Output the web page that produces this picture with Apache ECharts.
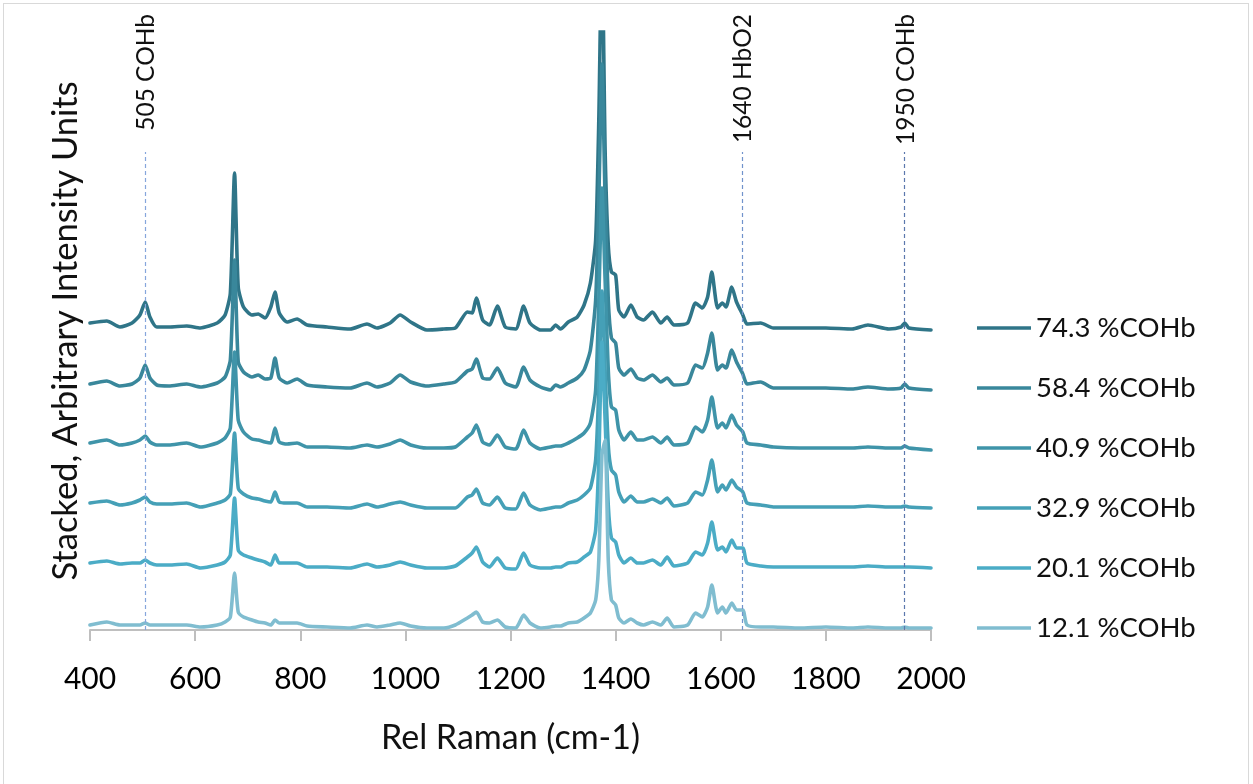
<!DOCTYPE html>
<html>
<head>
<meta charset="utf-8">
<script src="https://cdn.jsdelivr.net/npm/echarts@6/dist/echarts.min.js"></script>
<style>
html,body{margin:0;padding:0;background:#fff;}
#frame{position:absolute;left:3px;top:3px;width:1246px;height:790px;border:1px solid #d9d9d9;box-sizing:border-box;}
#chart{position:absolute;left:0;top:0;width:1253px;height:784px;}
</style>
</head>
<body>
<div id="frame"></div>
<div id="chart"></div>
<script>
// Raman shift (cm-1)
const wavenumbers = [400,432,457,480,495,505,514,527,550,584,610,642,657,667,675,682,692,708,720,733,744,752,760,775,794,813,851,895,927,946,971,990,1010,1041,1073,1095,1118,1127,1135,1147,1160,1175,1190,1210,1225,1237,1257,1276,1286,1295,1310,1327,1340,1352,1362,1368,1374,1380,1386,1392,1400,1406,1416,1429,1441,1453,1470,1486,1498,1511,1537,1552,1565,1575,1583,1594,1603,1610,1621,1630,1642,1650,1676,1700,1750,1800,1850,1880,1920,1943,1950,1958,2000];

// Intensities (arbitrary units, before stacking offset)
const cohb743 = [7,9,3,7,15,28,13,3,3,4,2,7,15,37,157,43,23,15,16,12,23,38,17,8,11,5,3,1,6,2,7,15,8,0,1,2,18,17,32,10,5,24,3,1,24,7,0,0,5,1,8,13,25,47,90,210,390,180,85,58,55,20,13,25,13,10,18,7,13,5,7,27,22,33,58,22,27,23,43,28,15,6,7,2,2,2,1,5,1,3,7,2,0];
const cohb584 = [6,9,4,6,12,25,12,5,4,6,3,7,13,30,130,28,18,13,15,11,12,32,12,7,11,5,3,2,7,3,7,15,8,4,6,8,19,21,31,12,11,22,7,3,23,10,3,0,5,3,7,12,20,40,90,190,326,190,90,52,47,22,15,21,12,10,15,8,12,5,7,25,22,37,57,20,25,22,40,28,16,6,8,2,2,2,1,3,1,2,6,2,0];
const cohb409 = [7,10,5,7,10,14,8,5,5,7,3,7,12,22,98,30,18,11,10,8,7,22,8,6,7,3,3,2,5,3,6,10,5,2,2,3,13,17,25,8,5,15,3,1,20,7,1,3,4,4,7,12,17,27,60,150,262,170,80,43,40,20,10,18,10,10,13,7,13,5,7,23,18,30,53,22,27,22,35,25,18,7,5,3,2,2,2,3,2,2,4,2,0];
const cohb329 = [7,9,5,7,10,13,8,6,6,7,3,7,10,16,77,22,16,12,11,9,8,18,8,7,7,3,3,2,6,3,6,8,5,2,2,2,13,15,21,7,5,13,2,1,17,5,0,2,3,3,7,10,15,22,50,120,219,140,65,40,35,18,8,14,8,8,11,7,12,4,7,18,15,30,50,18,25,20,30,23,18,7,5,3,3,3,3,4,3,3,4,3,2];
const cohb201 = [7,9,6,7,7,10,7,5,5,6,2,5,8,15,72,20,15,12,10,8,5,15,7,7,7,3,3,2,6,3,5,8,5,2,2,4,13,17,23,8,3,12,2,1,17,5,2,2,3,3,7,8,13,18,40,110,228,150,65,32,28,15,7,12,7,7,10,5,13,4,7,18,15,27,48,20,23,18,30,22,22,7,4,3,3,3,3,4,3,3,3,3,2];
const cohb121 = [5,8,5,5,5,7,5,5,5,5,3,5,8,13,57,18,13,10,8,7,5,10,7,7,7,4,3,2,5,3,5,7,4,2,2,5,12,15,18,8,7,10,3,2,15,7,2,3,4,4,7,8,12,17,30,70,175,190,70,30,25,12,7,11,7,5,8,5,12,3,5,17,13,23,45,17,23,17,27,20,20,5,3,3,2,3,2,3,2,2,3,2,2];

const seriesNames = ['74.3 %COHb','58.4 %COHb','40.9 %COHb','32.9 %COHb','20.1 %COHb','12.1 %COHb'];
const seriesValues = [cohb743, cohb584, cohb409, cohb329, cohb201, cohb121];
const stackOffsets = [300, 240, 180, 120, 60, 0];
const seriesColors = ['#2f7588','#39879b','#3f94a9','#45a0b7','#4bacc6','#80bdd0'];

// Reference band markers
const markerPositions = [505, 1640, 1950];
const markerLabels = ['505 COHb', '1640 HbO2', '1950 COHb'];
const markerTops = [478, 478, 478];
const markerColors = ['#86a6dc', '#7193cc', '#5b78ad'];
const labelEndValue = 616;

const FONT = 'Lato, "Open Sans", sans-serif';
const chart = echarts.init(document.getElementById('chart'), null, {renderer: 'canvas'});

const series = seriesNames.map((name, k) => ({
  name: name,
  type: 'line',
  showSymbol: false,
  symbol: 'none',
  smooth: 0.2,
  clip: true,
  lineStyle: {width: 3.6, color: seriesColors[k], cap: 'round', join: 'round'},
  itemStyle: {color: seriesColors[k]},
  data: wavenumbers.map((x, i) => [x, seriesValues[k][i] + stackOffsets[k]])
}));

series[series.length - 1].markLine = {
  silent: true,
  symbol: 'none',
  label: {show: false},
  data: markerPositions.map((p, i) => [
    {coord: [p, 0], lineStyle: {color: markerColors[i], type: [4, 3], width: 1.2}},
    {coord: [p, markerTops[i]]}
  ])
};

chart.setOption({
  animation: false,
  backgroundColor: 'transparent',
  grid: {left: 90, right: 322, top: 32, bottom: 154, containLabel: false},
  legend: {
    orient: 'vertical',
    left: 977,
    top: 313,
    padding: 0,
    icon: 'rect',
    itemWidth: 54,
    itemHeight: 3.5,
    itemGap: 30,
    data: seriesNames,
    textStyle: {fontFamily: FONT, fontSize: 27.5, color: '#111', lineHeight: 30}
  },
  xAxis: {
    type: 'value',
    min: 400,
    max: 2000,
    interval: 200,
    name: 'Rel Raman (cm-1)',
    nameLocation: 'middle',
    nameGap: 91,
    nameTextStyle: {fontFamily: FONT, fontSize: 34, color: '#111'},
    axisLine: {show: true, lineStyle: {color: '#bfbfbf', width: 2}},
    axisTick: {show: true, length: 11, lineStyle: {color: '#bfbfbf', width: 2}},
    axisLabel: {fontFamily: FONT, fontSize: 30, color: '#000', margin: 34, formatter: v => String(v)},
    splitLine: {show: false}
  },
  yAxis: {
    type: 'value',
    min: 0,
    max: 598,
    name: 'Stacked, Arbitrary Intensity Units',
    nameLocation: 'middle',
    nameGap: 7,
    nameTextStyle: {fontFamily: FONT, fontSize: 34.5, color: '#111'},
    axisLine: {show: false},
    axisTick: {show: false},
    axisLabel: {show: false},
    splitLine: {show: false}
  },
  series: series
});

const graphics = markerPositions.map((p, i) => {
  const pt = chart.convertToPixel({xAxisIndex: 0, yAxisIndex: 0}, [p, labelEndValue]);
  return {
    type: 'text',
    x: pt[0] + 1,
    y: pt[1],
    rotation: Math.PI / 2,
    silent: true,
    style: {
      x: 0, y: 0,
      text: markerLabels[i],
      align: 'right',
      verticalAlign: 'middle',
      font: '24.5px Lato, "Open Sans", sans-serif',
      fill: '#111'
    }
  };
});
chart.setOption({graphic: graphics});
</script>
</body>
</html>
